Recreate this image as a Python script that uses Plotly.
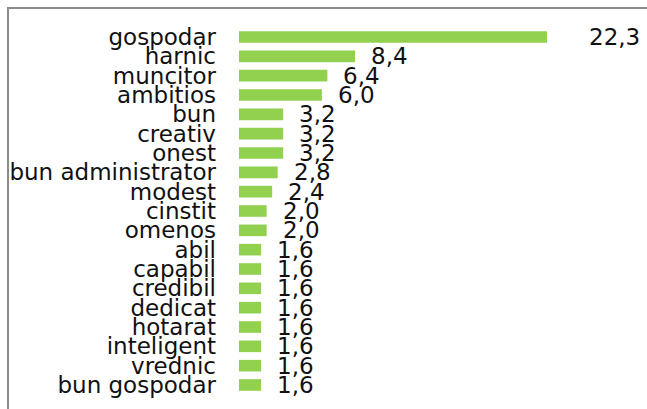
import plotly.graph_objects as go

# Categories (top to bottom) and percentages
categories = ["gospodar", "harnic", "muncitor", "ambitios", "bun", "creativ", "onest",
              "bun administrator", "modest", "cinstit", "omenos", "abil", "capabil",
              "credibil", "dedicat", "hotarat", "inteligent", "vrednic", "bun gospodar"]
values = [22.3, 8.4, 6.4, 6.0, 3.2, 3.2, 3.2, 2.8, 2.4, 2.0, 2.0,
          1.6, 1.6, 1.6, 1.6, 1.6, 1.6, 1.6, 1.6]

W, H = 647, 409
L, R, T, B = 239, 0, 22, 9
FONT = "DejaVu Sans"

fig = go.Figure(go.Bar(
    x=values,
    y=categories,
    orientation="h",
    marker=dict(color="#92D050", line=dict(width=0)),
    width=0.6,
    hoverinfo="x+y",
))

# value labels (outside the bar ends)
vmax = max(values)
for cat, v in zip(categories, values):
    fig.add_annotation(
        x=v, y=cat, xref="x", yref="y",
        text=f"{v:.1f}".replace(".", ","),
        showarrow=False, xanchor="left", yanchor="middle",
        xshift=40 if v == vmax else 14,
        font=dict(family=FONT, size=23, color="#111111"),
    )

fig.update_layout(
    width=W, height=H,
    margin=dict(l=L, r=R, t=T, b=B, autoexpand=False),
    paper_bgcolor="white",
    plot_bgcolor="white",
    showlegend=False,
    font=dict(family=FONT, size=23, color="#111111"),
)

fig.update_xaxes(range=[0, (W - L - R) / 13.81], visible=False, fixedrange=True)
fig.update_yaxes(
    autorange="reversed",
    tickmode="linear", dtick=1, tick0=0,
    automargin=False,
    showgrid=False,
    zeroline=False,
    showline=False,
    ticks="",
    ticklabelstandoff=22,
    tickfont=dict(family=FONT, size=23, color="#111111"),
)

# grey chart-area border (top-left part visible)
pw = W - L - R
ph = H - T - B
fig.add_shape(
    type="rect", xref="paper", yref="paper",
    x0=(8 - L) / pw, x1=(W + 20 - L) / pw,
    y0=-(B + 20) / ph, y1=1 + (T - 8) / ph,
    line=dict(color="#8c8c8c", width=2),
    layer="below",
)

fig.write_html(
    "out.html",
    config={"displayModeBar": False},
    post_script="document.body.style.margin='0';document.body.style.overflow='hidden';",
)
